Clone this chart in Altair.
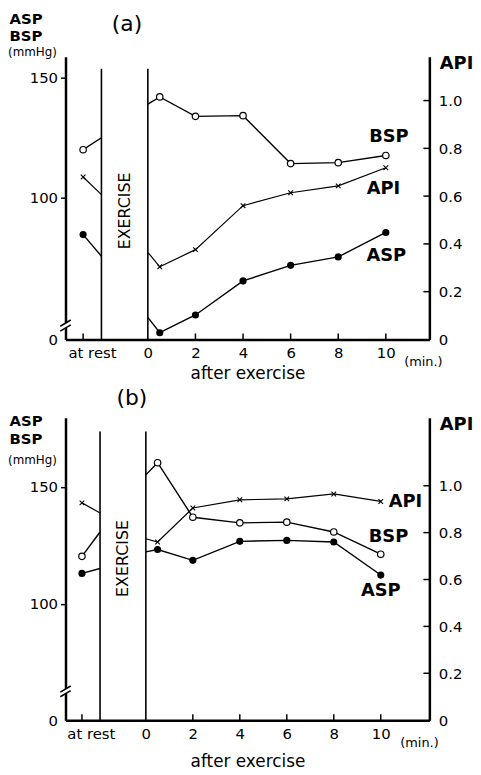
import altair as alt
import pandas as pd

FONT = "DejaVu Sans"

# ---- shared x positions (minutes; "at rest" placed left of the exercise band) ----
T_REST = -2.72
T_POST = [0.5, 2, 4, 6, 8, 10]
EX_START = -1.95
EX_END = 0.0
X_TICKS = [T_REST, 0, 2, 4, 6, 8, 10]
X_INNER_TICKS = [T_REST, 2, 4, 6, 8, 10]
API_TICKS = [0, 0.2, 0.4, 0.6, 0.8, 1.0]
API_INNER_TICKS = [0.2, 0.4, 0.6, 0.8, 1.0]

# values: at rest, entering exercise band, leaving band (t=0), then 0.5, 2, 4, 6, 8, 10 min
A_BSP = [120.0, 125.0, 139.0, 142.0, 133.9, 134.2, 114.2, 114.6, 117.6]
A_ASP = [84.6, 75.6, 50.1, 43.7, 51.1, 65.3, 71.8, 75.3, 85.5]
A_API = [0.68, 0.606, 0.365, 0.304, 0.376, 0.56, 0.614, 0.643, 0.719]

B_BSP = [120.3, 130.7, 155.1, 160.3, 137.0, 134.6, 134.9, 130.7, 121.2]
B_ASP = [113.0, 115.1, 122.2, 123.2, 118.6, 126.7, 127.1, 126.4, 112.3]
B_API = [0.927, 0.884, 0.774, 0.76, 0.905, 0.94, 0.944, 0.965, 0.933]

PANELS = [
    dict(name="(a)", bsp=A_BSP, asp=A_ASP, api=A_API,
         xdom=[-3.46, 11.83], lo=40.9, hi=158.7, api_hi=1.183, h=285,
         ex_top=153.7, ex_v=94.5, brk=46.7,
         lbl_bsp=(10.13, 125.2), lbl_asp=(10.02, 75.6), lbl_api=(9.9, 0.63),
         min_t=11.58, ytitle_y=-34, mmhg_y=-1, title_xy=(62, -33), xtitle_pad=5),
    dict(name="(b)", bsp=B_BSP, asp=B_ASP, api=B_API,
         xdom=[-3.42, 12.07], lo=50.3, hi=179.5, api_hi=1.29, h=305,
         ex_top=173.6, ex_v=119.4, brk=62.6,
         lbl_bsp=(10.33, 128.6), lbl_asp=(10.0, 105.4), lbl_api=(11.05, 0.93),
         min_t=11.65, ytitle_y=8, mmhg_y=47, title_xy=(67, -20), xtitle_pad=13),
]


def seg_frame(vals, name):
    ts = [T_REST, EX_START, EX_END] + T_POST
    seg = ["pre", "pre"] + ["post"] * (1 + len(T_POST))
    pt = [True, False, False] + [True] * len(T_POST)
    return pd.DataFrame({"t": ts, "v": vals, "k": [name + s for s in seg], "pt": pt})


def make_panel(p):
    X = alt.X("t:Q", scale=alt.Scale(domain=p["xdom"], nice=False, zero=False),
              axis=alt.Axis(values=X_TICKS,
                            labelExpr="datum.value < -1 ? 'at rest' : datum.label",
                            labelOffset={"condition": {"test": "datum.value < -1", "value": 9}, "value": 0},
                            title="after exercise", titlePadding=p["xtitle_pad"], titleFontSize=17,
                            titleFontWeight="normal", ticks=False, tickSize=0, labelPadding=6,
                            labelFontSize=15, domainWidth=2.5, grid=False,
                            labelOverlap=False, labelFlush=False, labelBound=False))
    Y = alt.Y("v:Q", scale=alt.Scale(domain=[p["lo"], p["hi"]], nice=False, zero=False),
              axis=alt.Axis(values=[p["lo"], 100, 150],
                            labelExpr="datum.value < 90 ? '0' : datum.label",
                            title=["ASP", "BSP"], titleAngle=0, titleAlign="left",
                            titleBaseline="alphabetic", titleX=-57, titleY=p["ytitle_y"],
                            titleFontSize=15, titleFontWeight="bold", titleLineHeight=18,
                            tickSize=5, tickWidth=1.5,
                            tickOpacity={"condition": {"test": "datum.value < 90", "value": 0}, "value": 1},
                            labelPadding=3, labelFontSize=15, domainWidth=2.5, grid=False,
                            labelOverlap=False, labelFlush=False, labelBound=False))
    YA = alt.Y("v:Q", scale=alt.Scale(domain=[0, p["api_hi"]], nice=False, zero=False),
               axis=alt.Axis(orient="right", values=API_TICKS,
                             labelExpr="datum.value == 0 ? '0' : format(datum.value, '.1f')",
                             title="API", titleAngle=0, titleAlign="left", titleBaseline="top",
                             titleX=10, titleY=-2, titleFontSize=18, titleFontWeight="bold",
                             ticks=False, tickSize=0, labelPadding=9, labelFontSize=15,
                             domainWidth=2.5, grid=False,
                             labelOverlap=False, labelFlush=False, labelBound=False))

    bsp = seg_frame(p["bsp"], "bsp")
    asp = seg_frame(p["asp"], "asp")
    api = seg_frame(p["api"], "api")
    xmin = p["xdom"][0]

    box = pd.DataFrame({"t": [EX_START, EX_END], "v": [p["lo"]] * 2, "v2": [p["ex_top"]] * 2})
    rules = alt.Chart(box).mark_rule(color="black", strokeWidth=1.6).encode(x=X, y=Y, y2="v2:Q")

    b = p["brk"]
    gap = pd.DataFrame({"t": [xmin], "v": [b - 1.0], "v2": [b + 1.0]})
    gap_rule = alt.Chart(gap).mark_rule(color="white", strokeWidth=6).encode(x=X, y=Y, y2="v2:Q")
    sl = pd.DataFrame({"t": [xmin - 0.22, xmin - 0.22], "t2": [xmin + 0.22, xmin + 0.22],
                       "v": [b - 2.3, b - 0.3], "v2": [b + 0.3, b + 2.3]})
    slashes = alt.Chart(sl).mark_rule(color="black", strokeWidth=1.5).encode(
        x=X, x2="t2:Q", y=Y, y2="v2:Q")

    lines = alt.Chart(pd.concat([bsp, asp])).mark_line(color="black", strokeWidth=1.4).encode(
        x=X, y=Y, detail="k:N")
    bsp_pts = alt.Chart(bsp[bsp.pt]).mark_point(shape="circle", filled=True, fill="white",
                                                stroke="black", strokeWidth=1.2, size=42,
                                                opacity=1).encode(x=X, y=Y)
    asp_pts = alt.Chart(asp[asp.pt]).mark_circle(color="black", size=52, opacity=1).encode(x=X, y=Y)

    ex = pd.DataFrame({"t": [(EX_START + EX_END) / 2], "v": [p["ex_v"]], "s": ["EXERCISE"]})
    ex_text = alt.Chart(ex).mark_text(angle=270, fontSize=16, align="center",
                                      baseline="middle").encode(x=X, y=Y, text="s:N")

    lab = pd.DataFrame({"t": [p["lbl_bsp"][0], p["lbl_asp"][0]],
                        "v": [p["lbl_bsp"][1], p["lbl_asp"][1]], "s": ["BSP", "ASP"]})
    labels = alt.Chart(lab).mark_text(fontSize=18, fontWeight="bold", align="center",
                                      baseline="middle").encode(x=X, y=Y, text="s:N")

    xt = pd.DataFrame({"t": X_INNER_TICKS, "v": [p["lo"]] * len(X_INNER_TICKS)})
    xticks = alt.Chart(xt).mark_tick(orient="vertical", size=6, thickness=1.5, yOffset=-3,
                                     color="black", opacity=1).encode(x=X, y=Y)

    mmhg = alt.Chart(pd.DataFrame({"s": ["(mmHg)"]})).mark_text(
        align="left", baseline="alphabetic", fontSize=12).encode(
        x=alt.value(-58), y=alt.value(p["mmhg_y"]), text="s:N")
    ptitle = alt.Chart(pd.DataFrame({"s": [p["name"]]})).mark_text(
        align="center", baseline="middle", fontSize=22).encode(
        x=alt.value(p["title_xy"][0]), y=alt.value(p["title_xy"][1]), text="s:N")
    mins = alt.Chart(pd.DataFrame({"t": [p["min_t"]], "v": [p["lo"]], "s": ["(min.)"]})).mark_text(
        align="center", baseline="middle", fontSize=13, dy=23).encode(x=X, y=Y, text="s:N")

    api_line = alt.Chart(api).mark_line(color="black", strokeWidth=1.2).encode(x=X, y=YA, detail="k:N")
    api_pts = alt.Chart(api[api.pt]).mark_point(shape="M-1,-1L1,1M-1,1L1,-1", filled=False,
                                                color="black", strokeWidth=1.1, size=22,
                                                opacity=1).encode(x=X, y=YA)
    api_lab = alt.Chart(pd.DataFrame({"t": [p["lbl_api"][0]], "v": [p["lbl_api"][1]], "s": ["API"]})).mark_text(
        fontSize=18, fontWeight="bold", align="center", baseline="middle").encode(x=X, y=YA, text="s:N")
    at = pd.DataFrame({"t": [p["xdom"][1]] * len(API_INNER_TICKS), "v": API_INNER_TICKS})
    api_ticks = alt.Chart(at).mark_tick(orient="horizontal", size=6, thickness=1.5, xOffset=-3,
                                        color="black", opacity=1).encode(x=X, y=YA)

    mm = alt.layer(rules, gap_rule, slashes, lines, bsp_pts, asp_pts, ex_text, labels, xticks,
                   mmhg, ptitle, mins)
    ap = alt.layer(api_line, api_pts, api_lab, api_ticks)
    return alt.layer(mm, ap).resolve_scale(y="independent").properties(width=367, height=p["h"])


chart = alt.vconcat(make_panel(PANELS[0]), make_panel(PANELS[1]), spacing=79, bounds="flush").properties(
    padding=0
).configure_view(stroke=None).configure_axis(
    labelFont=FONT, titleFont=FONT, labelColor="black", titleColor="black",
    domainColor="black", tickColor="black"
).configure_text(font=FONT, color="black")

chart.save("out.html", embed_options={"renderer": "svg", "actions": False})
